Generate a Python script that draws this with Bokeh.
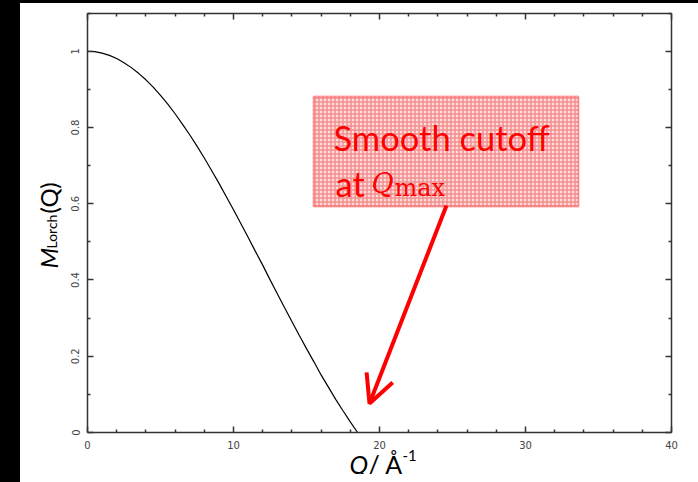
import math
from bokeh.plotting import figure
from bokeh.models import (Range1d, LinearAxis, Label, BoxAnnotation, Arrow, OpenHead,
                          FixedTicker, CustomJSTickFormatter, GlobalInlineStyleSheet)
from bokeh.embed import file_html
from bokeh.resources import INLINE

# ---- data ----
q_values = [0, 0.5, 1, 1.5, 2, 2.5, 3, 3.5, 4, 4.5, 5, 5.5, 6, 6.5, 7, 7.5, 8, 8.5,
            9, 9.5, 10, 10.5, 11, 11.5, 12, 12.5, 13, 13.5, 14, 14.5, 15, 15.5,
            16, 16.5, 17, 17.5, 18, 18.5]
m_lorch = [1.000, 0.999, 0.995, 0.989, 0.981, 0.970, 0.957, 0.942, 0.925, 0.906,
           0.884, 0.861, 0.836, 0.809, 0.781, 0.751, 0.720, 0.687, 0.654, 0.619,
           0.584, 0.548, 0.512, 0.475, 0.439, 0.401, 0.364, 0.327, 0.291, 0.255,
           0.220, 0.186, 0.151, 0.119, 0.087, 0.057, 0.028, 0.000]
x_major_ticks = [0, 10, 20, 30, 40]
x_minor_ticks = [2, 4, 6, 8, 12, 14, 16, 18, 22, 24, 26, 28, 32, 34, 36, 38]
y_major_ticks = [0, 0.2, 0.4, 0.6, 0.8, 1]
y_minor_ticks = [0.1, 0.3, 0.5, 0.7, 0.9, 1.1]
x_lim = (0, 40)
y_lim = (0, 1.1)

# ---- geometry (pixels on the page) ----
W, H = 670, 471           # canvas size
OX, OY = 20, 3            # canvas offset on page
BOX_L, BOX_R, BOX_T, BOX_B = 87, 671, 12.6, 432   # plot box in page pixels
sx = (BOX_R - BOX_L) / (x_lim[1] - x_lim[0])
sy = (BOX_B - BOX_T) / (y_lim[1] - y_lim[0])
x_range = Range1d(x_lim[0] - (BOX_L - OX) / sx, x_lim[1] + (OX + W - BOX_R) / sx)
y_range = Range1d(y_lim[0] - (OY + H - BOX_B) / sy, y_lim[1] + (BOX_T - OY) / sy)

def px(x):   # page px -> data x
    return x_lim[0] + (x - BOX_L) / sx

def py(y):   # page px -> data y
    return y_lim[0] + (BOX_B - y) / sy

page_css = GlobalInlineStyleSheet(css=(
    "html { background: linear-gradient(to right, #000 20px, transparent 20px), "
    "linear-gradient(to bottom, #000 3px, #fff 3px) !important; } "
    "body { margin: 3px 0 0 20px !important; background: transparent; overflow: hidden; }"))

p = figure(width=W, height=H, output_backend="svg", toolbar_location=None,
           x_range=x_range, y_range=y_range,
           x_axis_location=None, y_axis_location=None,
           min_border=0, min_border_left=0, min_border_right=0,
           min_border_top=0, min_border_bottom=0,
           background_fill_color="white", border_fill_color="white",
           outline_line_color=None, stylesheets=[page_css])
p.grid.visible = False

xt = FixedTicker(ticks=x_major_ticks, minor_ticks=x_minor_ticks)
yt = FixedTicker(ticks=y_major_ticks, minor_ticks=y_minor_ticks)
fmt = CustomJSTickFormatter(code="return String(tick);")
blank = CustomJSTickFormatter(code="return '';")

def make_axis(ticker, loc, bounds, show_labels):
    ax = LinearAxis(ticker=ticker, fixed_location=loc, bounds=bounds,
                    formatter=fmt if show_labels else blank)
    ax.axis_line_color = "#333333"
    ax.axis_line_width = 1.5
    ax.major_tick_in = 6
    ax.major_tick_out = 0
    ax.minor_tick_in = 3
    ax.minor_tick_out = 0
    ax.major_tick_line_color = "#333333"
    ax.minor_tick_line_color = "#333333"
    ax.major_tick_line_width = 1.5
    ax.minor_tick_line_width = 1.5
    ax.major_label_text_font = "DejaVu Sans"
    ax.major_label_text_font_size = "10px"
    ax.major_label_text_color = "#444444"
    ax.major_label_standoff = 8
    return ax

bottom_ax = make_axis(xt, y_lim[0], x_lim, True)
left_ax = make_axis(yt, x_lim[0], y_lim, True)
left_ax.major_label_orientation = "vertical"
top_ax = make_axis(xt, y_lim[1], x_lim, False)
right_ax = make_axis(yt, x_lim[1], y_lim, False)
p.add_layout(bottom_ax, "below")
p.add_layout(left_ax, "left")
p.add_layout(top_ax, "above")
p.add_layout(right_ax, "right")

# curve
p.line(q_values, m_lorch, line_color="black", line_width=1.2)

# annotation box
box = BoxAnnotation(left=px(313), right=px(578), bottom=py(206), top=py(96),
                    fill_color="#ffdcdc", fill_alpha=1.0,
                    hatch_pattern="+", hatch_color="#f29090", hatch_scale=4,
                    hatch_weight=1.5, line_color="red", line_width=2)
p.add_layout(box)

red = "#ff0000"
p.add_layout(Label(x=px(333), y=py(137), text="Smooth cutoff", text_font="Lato",
                   text_font_size="34.5px", text_color=red, text_baseline="alphabetic"))
p.add_layout(Label(x=px(335), y=py(183), text="at", text_font="Lato",
                   text_font_size="34.5px", text_color=red, text_baseline="alphabetic"))
p.add_layout(Label(x=px(371), y=py(183), text="Q", text_font="DejaVu Serif",
                   text_font_style="italic", text_font_size="27px", text_color=red,
                   text_baseline="alphabetic"))
p.add_layout(Label(x=px(394), y=py(187), text="max", text_font="DejaVu Serif",
                   text_font_size="24px", text_color=red, text_baseline="alphabetic"))

p.add_layout(Arrow(x_start=px(446), y_start=py(205), x_end=px(369), y_end=py(403),
                   line_color=red, line_width=4,
                   end=OpenHead(line_color=red, line_width=4, size=28)))

# y axis label (rotated, in pieces)
p.add_layout(Label(x=px(48), y=py(268), text="M", angle=math.pi / 2, text_font="Lato",
                   text_font_style="italic", text_font_size="24px", text_color="black",
                   text_baseline="alphabetic"))
p.add_layout(Label(x=px(51), y=py(248), text="Lorch", angle=math.pi / 2, text_font="Lato",
                   text_font_size="14px", text_color="black", text_baseline="alphabetic"))
p.add_layout(Label(x=px(48), y=py(213), text="(Q)", angle=math.pi / 2, text_font="Lato",
                   text_font_size="24px", text_color="black", text_baseline="alphabetic"))

# x axis label (in pieces)
p.add_layout(Label(x=px(349), y=py(463), text="Q", text_font="Lato",
                   text_font_style="italic", text_font_size="25px", text_color="black",
                   text_baseline="alphabetic"))
p.add_layout(Label(x=px(368), y=py(463), text="/ Å", text_font="Lato",
                   text_font_size="25px", text_color="black", text_baseline="alphabetic"))
p.add_layout(Label(x=px(402), y=py(455), text="-1", text_font="Lato",
                   text_font_size="15px", text_color="black", text_baseline="alphabetic"))

open("out.html", "w").write(file_html(p, INLINE))
